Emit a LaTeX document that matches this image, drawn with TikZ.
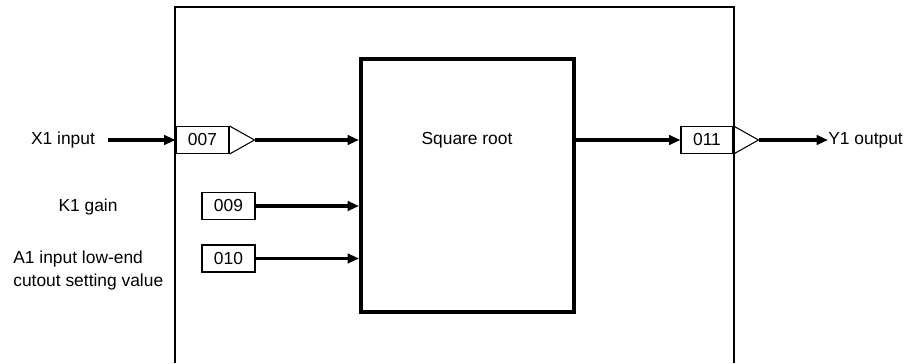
\documentclass[tikz,border=0pt]{standalone}
\usepackage{fontspec}
\setmainfont{Liberation Sans}
\usetikzlibrary{arrows.meta}

\begin{document}
\begin{tikzpicture}[x=0.02cm,y=-0.02cm,>={Triangle[length=6.5pt,width=5.4pt]},
    font=\fontsize{9.9}{13}\selectfont,
    sig/.style={->,line width=2.1pt},
    termbox/.style={draw,line width=0.6pt,minimum width=1.06cm,minimum height=0.54cm,inner sep=0pt},
    lbl/.style={inner sep=0pt}]
    \useasboundingbox (0,0) rectangle (909,363);
    \draw[line width=1.1pt] (175,363) |- (734,7) -- (734,363);
    \node[draw,line width=2.3pt,minimum width=4.26cm,minimum height=5.06cm] (sqrt) at (467.5,185.5) {};
    \node[lbl] (sqrtname) at (467,140) {Square root};
    \node[termbox] (b007) at (202.5,140) {007};
    \node[termbox] (b009) at (228.5,206) {009};
    \node[termbox] (b010) at (228.5,258.5) {010};
    \node[termbox,minimum width=1.04cm] (b011) at (707,140) {011};
    \foreach \b in {b007,b011}{
        \coordinate (\b tip) at ([xshift=0.5cm]\b.east);
        \draw[line width=0.6pt] (\b.north east) -- (\b tip) -- (\b.south east);
    }
    \node[lbl] (x1) at (63,140) {X1 input};
    \node[lbl] (k1) at (88,207) {K1 gain};
    \node[lbl,anchor=west,align=left] (a1) at (13,270.5) {A1 input low-end\\cutout setting value};
    \node[lbl,anchor=west] (y1) at (828,140) {Y1 output};
    \coordinate (x1start) at (108,140);
    \draw[sig] (x1start) -- (b007.west);
    \draw[sig] (b007tip) -- (b007tip -| sqrt.west);
    \draw[sig] (b009.east) -- (b009.east -| sqrt.west);
    \draw[sig] (b010.east) -- (b010.east -| sqrt.west);
    \draw[sig] (b011.west -| sqrt.east) -- (b011.west);
    \draw[sig] (b011tip) -- (y1.west);
\end{tikzpicture}
\end{document}
